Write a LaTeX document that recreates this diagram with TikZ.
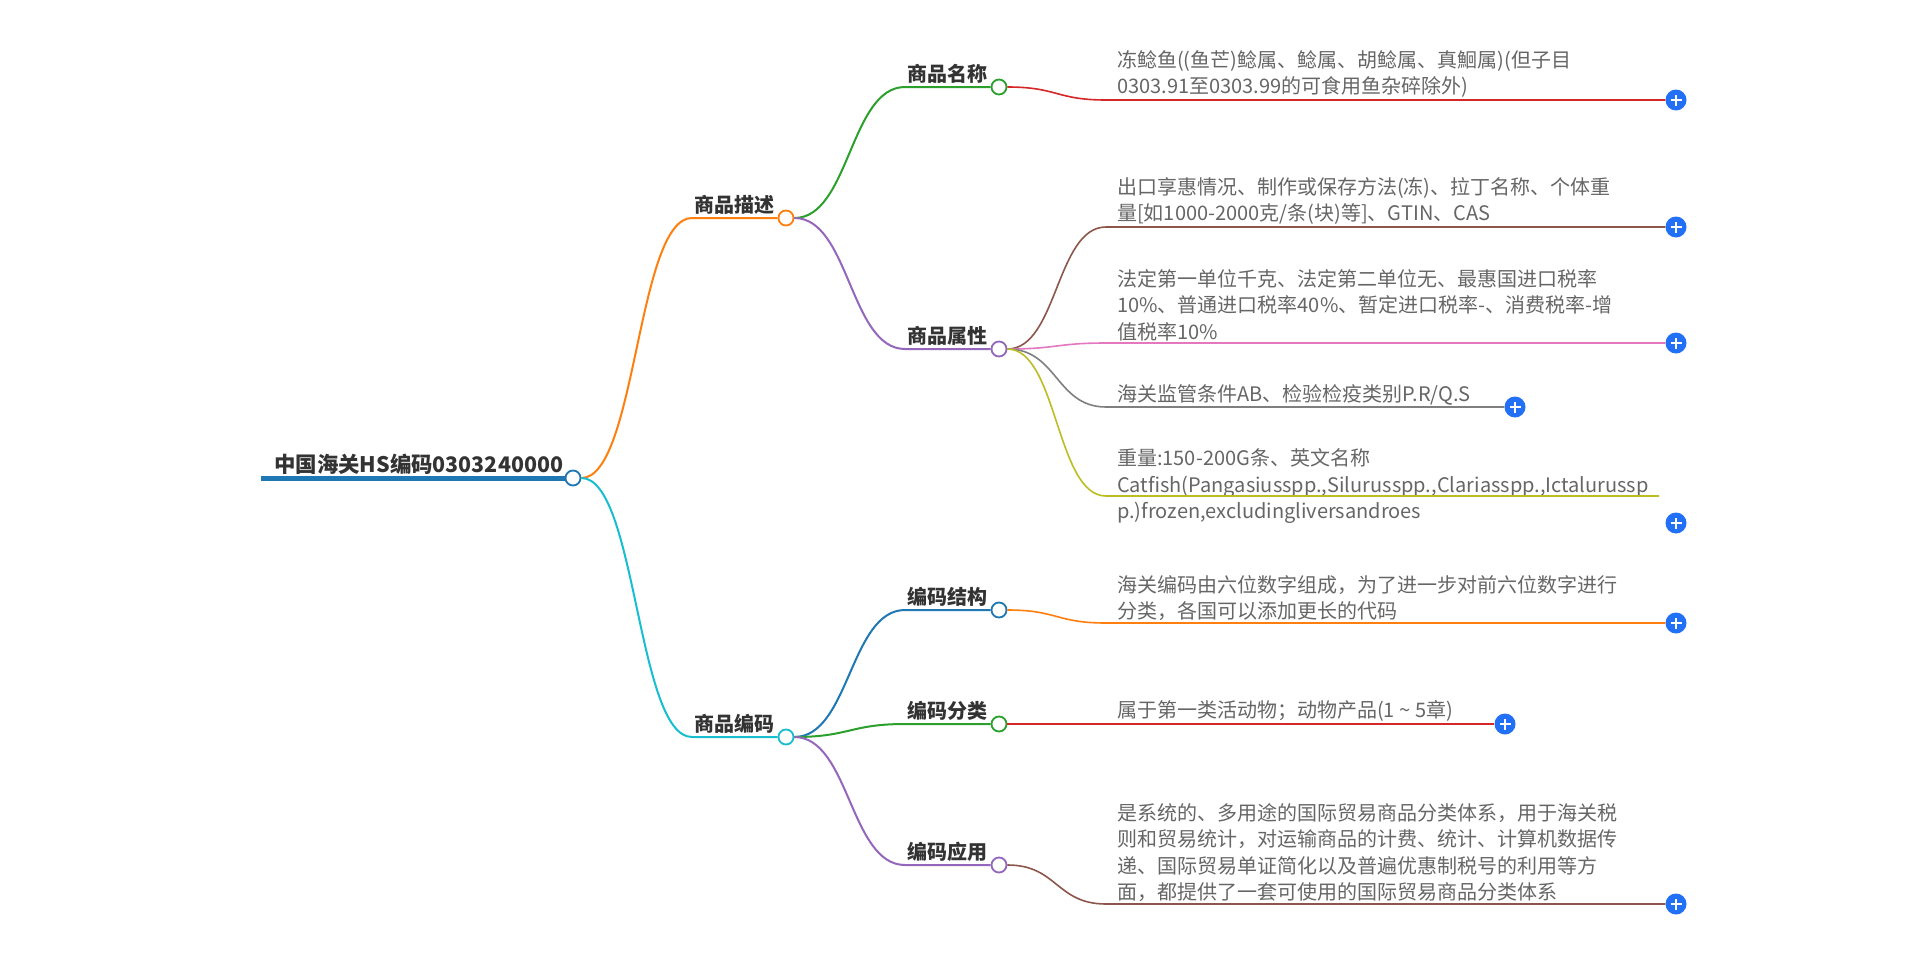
\documentclass[tikz,border=0pt]{standalone}
\usepackage{fontspec}
\setmainfont{Noto Sans CJK SC}
\definecolor{cblue}{HTML}{1F77B4}
\definecolor{corange}{HTML}{FF7F0E}
\definecolor{cgreen}{HTML}{2CA02C}
\definecolor{cred}{HTML}{D62728}
\definecolor{cpurple}{HTML}{9467BD}
\definecolor{cbrown}{HTML}{8C564B}
\definecolor{cpink}{HTML}{E377C2}
\definecolor{cgray}{HTML}{7F7F7F}
\definecolor{colive}{HTML}{BCBD22}
\definecolor{ccyan}{HTML}{17BECF}
\definecolor{plusblue}{HTML}{2270F5}
\definecolor{labeltext}{HTML}{333333}
\definecolor{leaftext}{HTML}{666666}
\tikzset{
  dot/.style={circle, draw, fill=white, line width=1.8pt, minimum size=15pt, inner sep=0pt},
  plusbtn/.style={circle, fill=plusblue, minimum size=21pt, inner sep=0pt,
    path picture={\draw[white, line width=2pt]
      ([xshift=-5.5pt]path picture bounding box.center) -- ([xshift=5.5pt]path picture bounding box.center)
      ([yshift=-5.5pt]path picture bounding box.center) -- ([yshift=5.5pt]path picture bounding box.center);}},
  rootline/.style={line width=5pt, draw=cblue},
  edge/.style={line width=2pt},
  leafedge/.style={line width=1.6pt},
  rootlabel/.style={inner sep=0pt, text=labeltext, font=\fontsize{21.4}{26}\selectfont\bfseries},
  branchlabel/.style={inner sep=0pt, anchor=base east, text=labeltext, font=\fontsize{20}{24}\selectfont\bfseries},
  leaflabel/.style={inner sep=0pt, anchor=south west, align=left, text=leaftext, font=\fontsize{20}{26.5}\selectfont},
}
\begin{document}
\begin{tikzpicture}[x=1pt,y=-1pt]
\useasboundingbox[fill=white] (0,0) rectangle (1920,953);

% ---------- root ----------
\node[dot, draw=cblue] (rc) at (573,478) {};
\coordinate (rs) at (261,478);
\draw[rootline] (rs) -- (rc.west);
\node[rootlabel, anchor=base west] (root) at (274,472) {中国海关HS编码0303240000};

% ---------- level 1 ----------
\node[dot, draw=corange] (d1c) at (786,218) {};
\coordinate (d1s) at (692,218);
\node[branchlabel] (d1) at (775,212) {商品描述};
\draw[edge, corange] (rc.east) .. controls +(55,0) and +(-55,0) .. (d1s) -- (d1c.west);

\node[dot, draw=ccyan] (d2c) at (786,737) {};
\coordinate (d2s) at (692,737);
\node[branchlabel] (d2) at (775,731) {商品编码};
\draw[edge, ccyan] (rc.east) .. controls +(55,0) and +(-55,0) .. (d2s) -- (d2c.west);

% ---------- level 2 ----------
\node[dot, draw=cgreen] (n1c) at (999,87) {};
\coordinate (n1s) at (905,87);
\node[branchlabel] (n1) at (988,81) {商品名称};
\draw[edge, cgreen] (d1c.east) .. controls +(55,0) and +(-55,0) .. (n1s) -- (n1c.west);

\node[dot, draw=cpurple] (n2c) at (999,349) {};
\coordinate (n2s) at (905,349);
\node[branchlabel] (n2) at (988,343) {商品属性};
\draw[edge, cpurple] (d1c.east) .. controls +(55,0) and +(-55,0) .. (n2s) -- (n2c.west);

\node[dot, draw=cblue] (n3c) at (999,610) {};
\coordinate (n3s) at (905,610);
\node[branchlabel] (n3) at (988,604) {编码结构};
\draw[edge, cblue] (d2c.east) .. controls +(55,0) and +(-55,0) .. (n3s) -- (n3c.west);

\node[dot, draw=cgreen] (n4c) at (999,724) {};
\coordinate (n4s) at (905,724);
\node[branchlabel] (n4) at (988,718) {编码分类};
\draw[edge, cgreen] (d2c.east) .. controls +(55,0) and +(-55,0) .. (n4s) -- (n4c.west);

\node[dot, draw=cpurple] (n5c) at (999,865) {};
\coordinate (n5s) at (905,865);
\node[branchlabel] (n5) at (988,859) {编码应用};
\draw[edge, cpurple] (d2c.east) .. controls +(55,0) and +(-55,0) .. (n5s) -- (n5c.west);

% ---------- leaves ----------
% 1
\node[plusbtn] (p1) at (1676,100) {};
\coordinate (s1) at (1106,100);
\node[leaflabel] (l1) at (1117,98) {冻鲶鱼((鱼芒)鲶属、鲶属、胡鲶属、真鮰属)(但子目\\0303.91至0303.99的可食用鱼杂碎除外)};
\draw[leafedge, cred] (n1c.east) .. controls +(50,0) and +(-50,0) .. (s1) -- (p1.west);

% 2
\node[plusbtn] (p2) at (1676,227) {};
\coordinate (s2) at (1106,227);
\node[leaflabel] (l2) at (1117,225) {出口享惠情况、制作或保存方法(冻)、拉丁名称、个体重\\量[如1000-2000克/条(块)等]、GTIN、CAS};
\draw[leafedge, cbrown] (n2c.east) .. controls +(50,0) and +(-50,0) .. (s2) -- (p2.west);

% 3
\node[plusbtn] (p3) at (1676,343) {};
\coordinate (s3) at (1106,343);
\node[leaflabel] (l3) at (1117,341) {法定第一单位千克、法定第二单位无、最惠国进口税率\\10\%、普通进口税率40\%、暂定进口税率-、消费税率-增\\值税率10\%};
\draw[leafedge, cpink] (n2c.east) .. controls +(50,0) and +(-50,0) .. (s3) -- (p3.west);

% 4
\node[plusbtn] (p4) at (1515,407) {};
\coordinate (s4) at (1106,407);
\node[leaflabel] (l4) at (1117,405) {海关监管条件AB、检验检疫类别P.R/Q.S};
\draw[leafedge, cgray] (n2c.east) .. controls +(50,0) and +(-50,0) .. (s4) -- (p4.west);

% 5
\node[plusbtn] (p5) at (1676,523) {};
\coordinate (s5) at (1106,496);
\coordinate (e5) at (1659,496);
\node[leaflabel] (l5) at (1117,524) {重量:150-200G条、英文名称\\Catfish(Pangasiusspp.,Silurusspp.,Clariasspp.,Ictalurussp\\p.)frozen,excludingliversandroes};
\draw[leafedge, colive] (n2c.east) .. controls +(50,0) and +(-50,0) .. (s5) -- (e5);

% 6
\node[plusbtn] (p6) at (1676,623) {};
\coordinate (s6) at (1106,623);
\node[leaflabel] (l6) at (1117,621) {海关编码由六位数字组成，为了进一步对前六位数字进行\\分类，各国可以添加更长的代码};
\draw[leafedge, corange] (n3c.east) .. controls +(50,0) and +(-50,0) .. (s6) -- (p6.west);

% 7
\node[plusbtn] (p7) at (1505,724) {};
\coordinate (s7) at (1106,724);
\node[leaflabel] (l7) at (1117,722) {属于第一类活动物；动物产品(1 \textasciitilde{} 5章)};
\draw[leafedge, cred] (n4c.east) .. controls +(50,0) and +(-50,0) .. (s7) -- (p7.west);

% 8
\node[plusbtn] (p8) at (1676,904) {};
\coordinate (s8) at (1106,904);
\node[leaflabel] (l8) at (1117,902) {是系统的、多用途的国际贸易商品分类体系，用于海关税\\则和贸易统计，对运输商品的计费、统计、计算机数据传\\递、国际贸易单证简化以及普遍优惠制税号的利用等方\\面，都提供了一套可使用的国际贸易商品分类体系};
\draw[leafedge, cbrown] (n5c.east) .. controls +(50,0) and +(-50,0) .. (s8) -- (p8.west);
\end{tikzpicture}
\end{document}
